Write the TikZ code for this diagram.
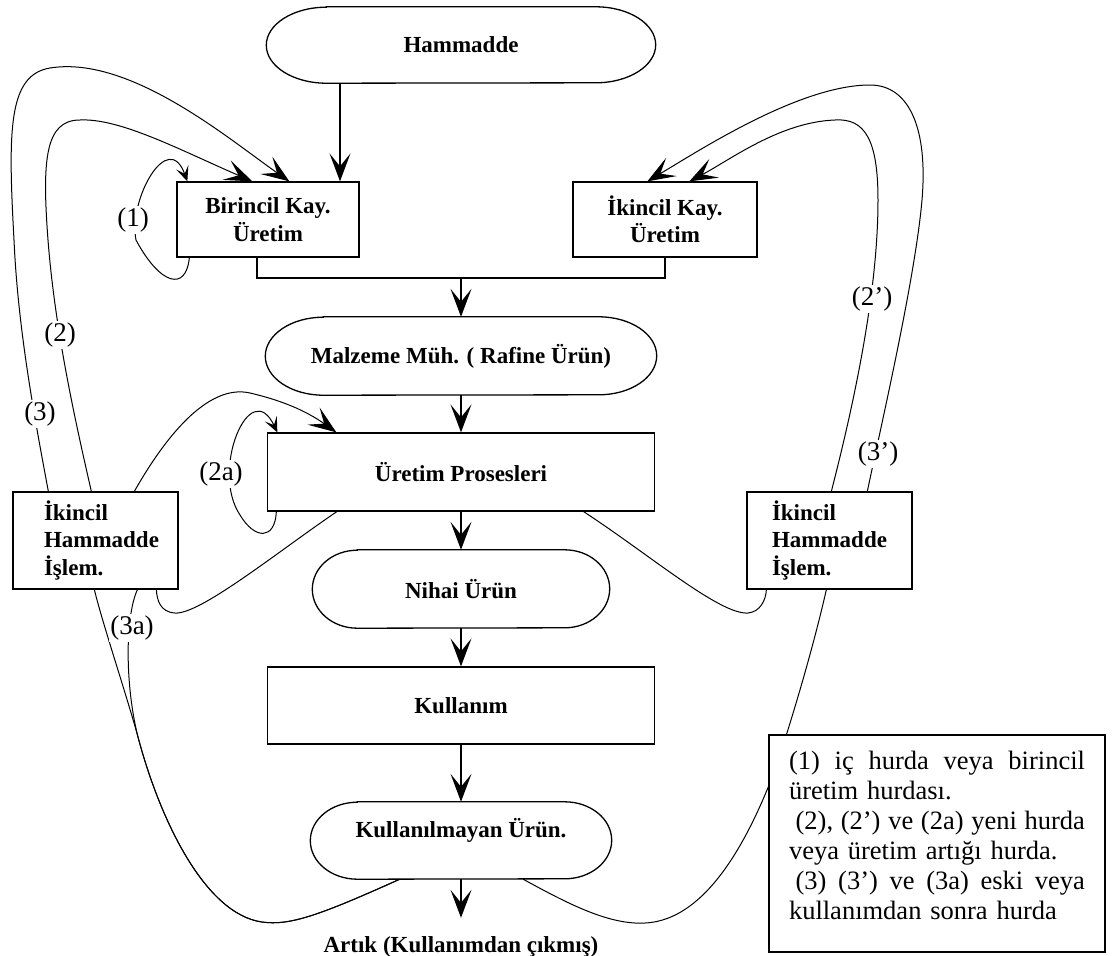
\documentclass[tikz,border=0pt]{standalone}
\usepackage{fontspec}
\setmainfont{Liberation Serif}
\usetikzlibrary{arrows.meta,backgrounds}
\newcommand\mynodefont{\fontsize{23}{27.5}\selectfont\bfseries}
\newcommand\mylabfont{\fontsize{27}{30}\selectfont\mdseries}
\newcommand\mylegfont{\fontsize{26.5}{30}\selectfont\mdseries}
\newcommand\justline[1]{\leavevmode\hbox to 296pt{#1}}
\newcommand\stadnode[7]{%
  \node[stad, minimum width=#3, minimum height=#4, #6] (#1) at #2 {#7};
  \draw[outl] ([xshift=#5]#1.north west) -- ([xshift=-#5]#1.north east)
    arc[start angle=90, end angle=-90, x radius=#5, y radius=#4/2]
    -- ([xshift=#5]#1.south west)
    arc[start angle=270, end angle=90, x radius=#5, y radius=#4/2] -- cycle;}
\begin{document}
\begin{tikzpicture}[x=1pt,y=-1pt,
  box/.style={draw=black, line width=1.3pt, fill=white, font=\mynodefont, align=center, inner sep=0pt},
  stad/.style={inner sep=0pt, font=\mynodefont, align=center},
  outl/.style={draw=black, line width=1.3pt},
  curve/.style={line width=1pt},
  sline/.style={line width=1.2pt},
  arr/.style={-{Stealth[length=28pt,width=21pt,inset=13pt]}},
  sarr/.style={-{Stealth[length=15pt,width=13pt,inset=7pt]}},
  lab/.style={fill=white, inner sep=1.5pt, font=\mylabfont},
]
\useasboundingbox (0,0) rectangle (1112,956);

% main column
\stadnode{ham}{(461,45)}{389pt}{76pt}{60pt}{}{Hammadde}
\node[box, minimum width=182pt, minimum height=75pt] (bir) at (268,219.5) {Birincil Kay.\\Üretim};
\node[box, minimum width=184pt, minimum height=75pt] (iki) at (665,219.5) {İkincil Kay.\\Üretim};
\stadnode{mal}{(461,356)}{391pt}{78pt}{58pt}{}{Malzeme Müh. ( Rafine Ürün)}
\node[box, minimum width=387pt, minimum height=78pt] (ure) at (461,472) {Üretim Prosesleri};
\stadnode{nih}{(461,589)}{297pt}{78pt}{45pt}{}{Nihai Ürün}
\node[box, minimum width=387pt, minimum height=77pt] (kul) at (461,705.5) {Kullanım};
\stadnode{kmu}{(461,840.5)}{301pt}{77pt}{47pt}{text height=20pt, text depth=27pt}{Kullanılmayan Ürün.}
\node[font=\mynodefont, inner sep=0pt, text height=16pt, text depth=5pt] (art) at (461,946.5) {Artık (Kullanımdan çıkmış)};

% side boxes
\node[box, minimum width=165pt, minimum height=97pt, align=left] (lb) at (95.5,540.5)
  {\hspace*{12pt}İkincil\\\hspace*{12pt}Hammadde\\\hspace*{12pt}İşlem.};
\node[box, minimum width=165pt, minimum height=97pt, align=left] (rb) at (829.5,540.5)
  {İkincil\\Hammadde\\İşlem.};

% legend
\node[box, font=\mylegfont, minimum width=336pt, minimum height=217pt, text width=296pt, align=left] (leg) at (937,843.5)
  {\justline{(1)\hfill iç\hfill hurda\hfill veya\hfill birincil}\\
   üretim hurdası.\\
   \justline{\hspace*{0.25em}(2),\hfill (2’)\hfill ve\hfill (2a)\hfill yeni\hfill hurda}\\
   veya üretim artığı hurda.\\
   \justline{\hspace*{0.25em}(3)\hfill (3’)\hfill ve\hfill (3a)\hfill eski\hfill veya}\\
   kullanımdan sonra hurda\rule[-16pt]{0pt}{1pt}};

% straight connectors
\coordinate (hb) at ([xshift=72pt]bir.north);
\draw[sline, arr] (ham.south -| hb) -- (hb);
\coordinate (jn) at (461,278);
\draw[sline] ([xshift=-11pt]bir.south) |- (jn) -| (iki.south);
\draw[sline, arr] (jn) -- (mal.north);
\draw[sline, arr] (mal.south) -- (ure.north);
\draw[sline, arr] (ure.south) -- (nih.north);
\draw[sline, arr] (nih.south) -- (kul.north);
\draw[sline, arr] (kul.south) -- (kmu.north);
\draw[sline, arr, shorten >=18pt] (kmu.south) -- (art.north);

% recycling curves
\begin{pgfonlayer}{background}
% (1)
\draw[curve, sarr] ([xshift=13pt]bir.south west) .. controls (186,292) and (160,285) .. (136,240)
  .. controls (128,200) and (168,128) .. ([xshift=11pt]bir.north west);
% (2)
\draw[curve] ([xshift=70pt]ure.south west) .. controls (280,550) and (200,615) .. (175,613)
  .. controls (160,612) and (157,600) .. ([xshift=144pt]lb.south west);
\draw[curve, arr] ([xshift=79pt]lb.north west) .. controls (75,420) and (55,330) .. (48,240)
  .. controls (42,160) and (45,120) .. (80,120)
  .. controls (120,118) and (180,150) .. ([xshift=76pt]bir.north west);
% (3)
\draw[curve] ([xshift=89.5pt]kmu.south west) .. controls (320,915) and (290,926) .. (262,922)
  .. controls (205,914) and (160,820) .. (138,737)
  .. controls (125,690) and (103,625) .. ([xshift=82pt]lb.south west);
\draw[curve, arr] ([xshift=36pt]lb.north west) .. controls (35,420) and (18,330) .. (14,240)
  .. controls (8,130) and (8,75) .. (50,68)
  .. controls (130,55) and (230,140) .. ([xshift=113pt]bir.north west);
% (3a)
\draw[curve] ([xshift=89.5pt]kmu.south west) .. controls (320,915) and (290,926) .. (262,922)
  .. controls (205,914) and (160,820) .. (138,737)
  .. controls (126,690) and (124,620) .. ([xshift=125pt]lb.south west);
\draw[curve, arr] ([xshift=122pt]lb.north west) .. controls (175,420) and (215,385) .. (250,393)
  .. controls (280,400) and (305,410) .. ([xshift=69.5pt]ure.north west);
% (2a)
\draw[curve, sarr] ([xshift=9.5pt]ure.south west) .. controls (275,540) and (255,540) .. (240,515)
  .. controls (210,470) and (250,375) .. ([xshift=10.5pt]ure.north west);
% (2')
\draw[curve] ([xshift=-71.5pt]ure.south east) .. controls (650,555) and (720,615) .. (748,613)
  .. controls (760,612) and (766,600) .. ([xshift=20pt]rb.south west);
\draw[curve, arr] ([xshift=85pt]rb.north west) .. controls (860,380) and (878,280) .. (878,200)
  .. controls (878,140) and (865,118) .. (835,120)
  .. controls (780,122) and (730,160) .. ([xshift=117pt]iki.north west);
% (3')
\draw[curve] ([xshift=-88.5pt]kmu.south east) .. controls (570,905) and (610,925) .. (645,923)
  .. controls (710,920) and (752,830) .. (775,770)
  .. controls (795,710) and (815,640) .. ([xshift=80pt]rb.south west);
\draw[curve, arr] ([xshift=121pt]rb.north west) .. controls (880,430) and (915,280) .. (922,200)
  .. controls (928,130) and (910,85) .. (870,85)
  .. controls (800,85) and (700,150) .. ([xshift=75pt]iki.north west);
\end{pgfonlayer}

% labels
\node[lab] (l1) at (133,220) {(1)};
\node[lab] (l2) at (60,335) {(2)};
\node[lab] (l3) at (40,414) {(3)};
\node[lab] (l2a) at (221,474) {(2a)};
\node[lab] (l3a) at (132,628) {(3a)};
\node[lab] (l2p) at (872,299) {(2’)};
\node[lab] (l3p) at (878,454) {(3’)};
\end{tikzpicture}
\end{document}
